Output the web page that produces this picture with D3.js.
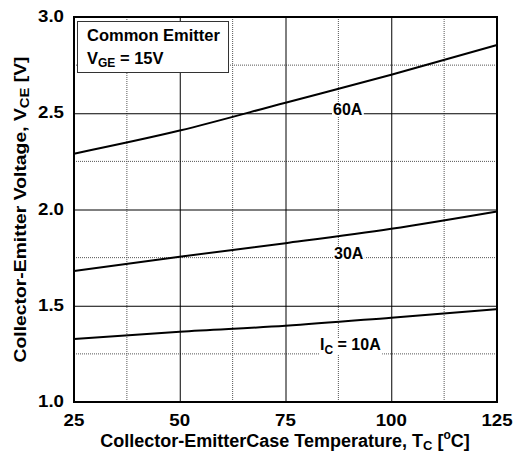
<!DOCTYPE html>
<html>
<head>
<meta charset="utf-8">
<script src="https://cdn.jsdelivr.net/npm/d3@7"></script>
<style>
  body { margin: 0; background: #fff; }
  text { font-family: "Liberation Sans", Arial, sans-serif; font-weight: bold; fill: #000; }
</style>
</head>
<body>
<script>
const temps = [25, 50, 75, 100, 125]
const vce60 = [2.29, 2.41, 2.555, 2.70, 2.855]
const vce30 = [1.68, 1.755, 1.825, 1.90, 1.99]
const vce10 = [1.327, 1.365, 1.396, 1.438, 1.482]
const xTicks = [25, 50, 75, 100, 125]
const yTicks = [1.0, 1.5, 2.0, 2.5, 3.0]
const xMinor = [37.5, 62.5, 87.5, 112.5]
const yMinor = [1.25, 1.75, 2.25, 2.75]

const dims = { w: 514, h: 455, pl: 74, pr: 17, pt: 17, pb: 53 }

const svg = d3.select("body").append("svg")
  .attr("width", dims.w)
  .attr("height", dims.h)

const x = d3.scaleLinear().domain([25, 125]).range([dims.pl, dims.w - dims.pr])
const y = d3.scaleLinear().domain([1, 3]).range([dims.h - dims.pb, dims.pt])

// widen/narrow text to the size seen in the original
const stretch = (sel, k) => sel.each(function() {
  const w = this.getComputedTextLength()
  d3.select(this).attr("textLength", w * k).attr("lengthAdjust", "spacingAndGlyphs")
})

// dotted minor grid
svg.append("g").selectAll("line").data(xMinor).enter().append("line")
  .attr("x1", d => x(d)).attr("x2", d => x(d))
  .attr("y1", y(1)).attr("y2", y(3))
  .attr("stroke", "#555").attr("stroke-width", 1).attr("stroke-dasharray", "1,1")
svg.append("g").selectAll("line").data(yMinor).enter().append("line")
  .attr("y1", d => y(d)).attr("y2", d => y(d))
  .attr("x1", x(25)).attr("x2", x(125))
  .attr("stroke", "#555").attr("stroke-width", 1).attr("stroke-dasharray", "1,1")

// solid major grid
svg.append("g")
  .attr("transform", `translate(0, ${y(1)})`)
  .call(d3.axisBottom(x).tickValues(xTicks).tickSize(-(y(1) - y(3))).tickFormat(""))
  .call(g => g.select(".domain").remove())
  .selectAll("line").attr("stroke", "#000").attr("stroke-width", 1)
svg.append("g")
  .attr("transform", `translate(${x(25)}, 0)`)
  .call(d3.axisLeft(y).tickValues(yTicks).tickSize(-(x(125) - x(25))).tickFormat(""))
  .call(g => g.select(".domain").remove())
  .selectAll("line").attr("stroke", "#000").attr("stroke-width", 1)

// tick labels
svg.append("g").selectAll("text").data(xTicks).enter().append("text")
  .attr("x", d => x(d)).attr("y", y(1) + 24)
  .attr("text-anchor", "middle").attr("font-size", 17)
  .text(d => d)
  .call(stretch, 1.1)
svg.append("g").selectAll("text").data(yTicks).enter().append("text")
  .attr("x", x(25) - 10).attr("y", d => y(d) + 5)
  .attr("text-anchor", "end").attr("font-size", 17)
  .text(d => d.toFixed(1))
  .call(stretch, 1.1)

// curves
const series = [
  { vals: vce60 }, { vals: vce30 }, { vals: vce10 }
]
const line = d3.line()
  .x((d, i) => x(temps[i]))
  .y(d => y(d))
  .curve(d3.curveMonotoneX)
svg.append("g").selectAll("path").data(series).enter().append("path")
  .attr("d", d => line(d.vals))
  .attr("fill", "none").attr("stroke", "#000").attr("stroke-width", 2)

// curve labels with white backing
function label(tx, ty, parts) {
  const t = svg.append("text").attr("x", tx).attr("y", ty).attr("font-size", 16)
  parts.forEach(p => {
    const s = t.append("tspan").text(p.t)
    if (p.sub) s.attr("font-size", 12).attr("dy", 4)
    if (p.up) s.attr("dy", -4)
  })
  const bb = t.node().getBBox()
  svg.insert("rect", () => t.node())
    .attr("x", bb.x - 1).attr("y", bb.y + 2)
    .attr("width", bb.width + 2).attr("height", bb.height - 4)
    .attr("fill", "#fff")
}
label(333, 115, [{ t: "60A" }])
label(334, 259, [{ t: "30A" }])
label(320, 350, [{ t: "I" }, { t: "C", sub: true }, { t: " = 10A", up: true }])

// frame
svg.append("rect")
  .attr("x", x(25)).attr("y", y(3))
  .attr("width", x(125) - x(25)).attr("height", y(1) - y(3))
  .attr("fill", "none").attr("stroke", "#000").attr("stroke-width", 2)

// legend box
svg.append("rect")
  .attr("x", 77.5).attr("y", 21.5).attr("width", 151).attr("height", 51)
  .attr("fill", "#fff").attr("stroke", "#333").attr("stroke-width", 1)
svg.append("text").attr("x", 87).attr("y", 41).attr("font-size", 16.5).text("Common Emitter")
const vge = svg.append("text").attr("x", 87).attr("y", 64).attr("font-size", 16.5)
vge.append("tspan").text("V")
vge.append("tspan").text("GE").attr("font-size", 12).attr("dy", 3)
vge.append("tspan").text(" = 15V").attr("dy", -3)

// axis titles
const xt = svg.append("text").attr("x", 285).attr("y", 447)
  .attr("text-anchor", "middle").attr("font-size", 18)
xt.append("tspan").text("Collector-EmitterCase Temperature, T")
xt.append("tspan").text("C").attr("font-size", 13).attr("dy", 3)
xt.append("tspan").text(" [").attr("dy", -3)
xt.append("tspan").text("o").attr("font-size", 12).attr("dy", -8)
xt.append("tspan").text("C]").attr("dy", 8)

const yt = svg.append("text")
  .attr("transform", `translate(26, ${(y(1) + y(3)) / 2}) rotate(-90)`)
  .attr("text-anchor", "middle").attr("font-size", 17)
  .attr("textLength", 306).attr("lengthAdjust", "spacingAndGlyphs")
yt.append("tspan").text("Collector-Emitter Voltage, V")
yt.append("tspan").text("CE").attr("font-size", 13).attr("dy", 3)
yt.append("tspan").text(" [V]").attr("dy", -3)
</script>
</body>
</html>
